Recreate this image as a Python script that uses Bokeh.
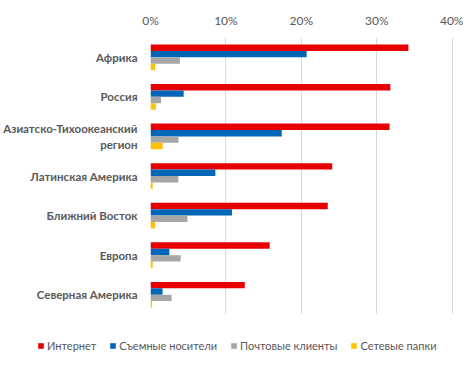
from bokeh.plotting import figure
from bokeh.models import (ColumnDataSource, FactorRange, Range1d, FixedTicker, Legend,
                          LegendItem, Spacer)
from bokeh.layouts import column
from bokeh.transform import dodge
from bokeh.embed import file_html
from bokeh.resources import INLINE

categories = ["Африка", "Россия", "Азиатско-Тихоокеанский\nрегион", "Латинская Америка",
              "Ближний Восток", "Европа", "Северная Америка"]
internet = [34.2, 31.8, 31.7, 24.1, 23.5, 15.8, 12.5]
removable = [20.7, 4.4, 17.4, 8.6, 10.8, 2.5, 1.6]
mail = [3.9, 1.4, 3.7, 3.7, 4.9, 4.0, 2.8]
network = [0.6, 0.7, 1.6, 0.3, 0.6, 0.3, 0.2]
series_names = ["Интернет", "Съемные носители", "Почтовые клиенты", "Сетевые папки"]
tick_values = [0, 10, 20, 30, 40]

colors = ["#E80000", "#0066B8", "#A6A6A6", "#FFC000"]
cols = ["internet", "removable", "mail", "network"]

source = ColumnDataSource(dict(cat=categories, internet=internet, removable=removable,
                               mail=mail, network=network))

FONT = "Lato"
TXT = "#595959"

p = figure(frame_width=313, frame_height=277, output_backend="svg", toolbar_location=None,
           y_range=FactorRange(factors=categories[::-1], range_padding=0),
           x_range=Range1d(0, 41.5), x_axis_location="above",
           min_border_left=0, min_border_top=0, min_border_right=0, min_border_bottom=0)

bh = 0.162
offsets = [1.5 * bh, 0.5 * bh, -0.5 * bh, -1.5 * bh]
renderers = []
for col, c, off in zip(cols, colors, offsets):
    r = p.hbar(y=dodge("cat", off, range=p.y_range), left=0, right=col, height=bh,
               source=source, fill_color=c, line_color=None)
    renderers.append(r)

p.xaxis.ticker = FixedTicker(ticks=tick_values)
p.xaxis.major_label_overrides = {t: f"{t}%" for t in tick_values}
p.xaxis.axis_line_color = None
p.xaxis.major_tick_line_color = None
p.xaxis.minor_tick_line_color = None
p.xaxis.major_tick_out = 0
p.xaxis.major_label_text_font = FONT
p.xaxis.major_label_text_font_size = "12px"
p.xaxis.major_label_text_color = TXT
p.xaxis.major_label_standoff = 10

p.yaxis.axis_line_color = None
p.yaxis.major_tick_line_color = None
p.yaxis.major_tick_out = 0
p.yaxis.major_label_text_font = FONT
p.yaxis.major_label_text_font_style = "bold"
p.yaxis.major_label_text_font_size = "11.5px"
p.yaxis.major_label_text_color = TXT
p.yaxis.major_label_standoff = 13

p.xgrid.grid_line_color = "#D9D9D9"
p.ygrid.grid_line_color = None
p.outline_line_color = None

# legend in a separate strip below the chart
lf = figure(frame_width=458, frame_height=42, output_backend="svg", toolbar_location=None,
            x_range=Range1d(0, 1), y_range=Range1d(0, 1),
            x_axis_location=None, y_axis_location=None,
            min_border_left=0, min_border_right=0, min_border_top=0, min_border_bottom=0)
lf.grid.visible = False
lf.outline_line_color = None
dummy = []
for c in colors:
    dummy.append(lf.hbar(y=[0], left=[0], right=[0], height=0.1, fill_color=c, line_color=None))

legend = Legend(items=[LegendItem(label=n, renderers=[r]) for n, r in zip(series_names, dummy)],
                orientation="horizontal", location=(37, 4),
                glyph_width=7, glyph_height=7, label_height=12, label_standoff=3, spacing=13,
                label_text_font=FONT, label_text_font_size="11px", label_text_color=TXT,
                border_line_color=None, background_fill_alpha=0, padding=2, margin=0)
lf.add_layout(legend, "center")

layout = column(Spacer(height=9), p, lf, spacing=0)

open("out.html", "w").write(file_html(layout, INLINE))
